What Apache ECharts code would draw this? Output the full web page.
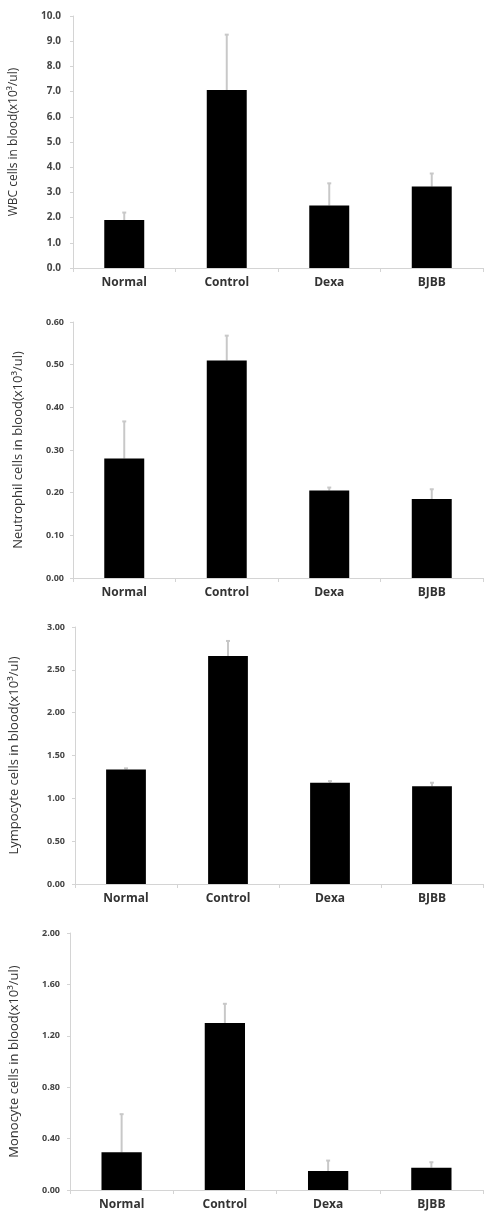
<!DOCTYPE html>
<html>
<head>
<meta charset="utf-8">
<title>Blood cells</title>
<script src="https://cdn.jsdelivr.net/npm/echarts@6/dist/echarts.min.js"></script>
<style>
  html, body { margin: 0; padding: 0; background: #fff; }
  #main { width: 499px; height: 1214px; }
</style>
</head>
<body>
<div id="main"></div>
<script>
  // groups on x axis
  var categories = ['Normal', 'Control', 'Dexa', 'BJBB'];

  // mean values and upper error (SD) of each panel
  var wbcMean = [1.9, 7.06, 2.48, 3.23];
  var wbcErr = [0.3, 2.2, 0.88, 0.52];
  var neutrophilMean = [0.28, 0.51, 0.205, 0.185];
  var neutrophilErr = [0.087, 0.058, 0.007, 0.023];
  var lympocyteMean = [1.337, 2.662, 1.181, 1.142];
  var lympocyteErr = [0.013, 0.175, 0.02, 0.04];
  var monocyteMean = [0.293, 1.30, 0.148, 0.174];
  var monocyteErr = [0.297, 0.149, 0.081, 0.042];

  // axis names
  var axisNames = [
    'WBC cells in blood(x10³/ul)',
    'Neutrophil cells in blood(x10³/ul)',
    'Lympocyte cells in blood(x10³/ul)',
    'Monocyte cells in blood(x10³/ul)'
  ];

  var panels = [
    {mean: wbcMean, err: wbcErr, max: 10, interval: 1, digits: 1,
      grid: {left: 72, top: 16, width: 411, height: 252}, nameSize: 12, nameGap: 53, labelSize: 10, labelMargin: 12},
    {mean: neutrophilMean, err: neutrophilErr, max: 0.6, interval: 0.1, digits: 2,
      grid: {left: 73, top: 322, width: 410, height: 256}, nameSize: 13, nameGap: 48, labelSize: 9, labelMargin: 9},
    {mean: lympocyteMean, err: lympocyteErr, max: 3, interval: 0.5, digits: 2,
      grid: {left: 73, top: 627, width: 410, height: 257}, nameSize: 13, nameGap: 54, labelSize: 9, labelMargin: 10},
    {mean: monocyteMean, err: monocyteErr, max: 2, interval: 0.4, digits: 2,
      grid: {left: 67, top: 933, width: 416, height: 257}, nameSize: 13, nameGap: 49, labelSize: 9, labelMargin: 10}
  ];

  var chart = echarts.init(document.getElementById('main'));

  var grid = [], xAxis = [], yAxis = [], series = [];

  panels.forEach(function (p, i) {
    grid.push(p.grid);
    xAxis.push({
      type: 'category',
      gridIndex: i,
      data: categories,
      axisLine: {lineStyle: {color: '#d4d4d4', width: 1}},
      axisTick: {show: true, length: 4, lineStyle: {color: '#d4d4d4'}},
      axisLabel: {
        color: '#333', fontSize: 12, fontWeight: 'bold',
        fontFamily: 'Open Sans', margin: 9
      }
    });
    yAxis.push({
      type: 'value',
      gridIndex: i,
      min: 0,
      max: p.max,
      interval: p.interval,
      name: axisNames[i],
      nameLocation: 'middle',
      nameGap: p.nameGap,
      nameTextStyle: {color: '#333', fontSize: p.nameSize, fontFamily: 'Open Sans'},
      axisLine: {show: true, lineStyle: {color: '#d4d4d4', width: 1}},
      axisTick: {show: true, length: 3, lineStyle: {color: '#d4d4d4'}},
      splitLine: {show: false},
      axisLabel: {
        color: '#444', fontSize: p.labelSize, fontWeight: 'bold',
        fontFamily: 'Open Sans', margin: p.labelMargin,
        formatter: function (v) { return v.toFixed(p.digits); }
      }
    });

    // bars
    series.push({
      type: 'bar',
      xAxisIndex: i,
      yAxisIndex: i,
      data: p.mean,
      barWidth: '39%',
      itemStyle: {color: '#000'},
      silent: true
    });

    // upper error bars
    series.push({
      type: 'custom',
      xAxisIndex: i,
      yAxisIndex: i,
      silent: true,
      z: 1,
      data: p.mean.map(function (m, k) { return [k, m, m + p.err[k]]; }),
      renderItem: function (params, api) {
        var bottom = api.coord([api.value(0), api.value(1)]);
        var top = api.coord([api.value(0), api.value(2)]);
        var style = {stroke: '#c8c8c8', lineWidth: 2};
        return {
          type: 'group',
          children: [
            {type: 'line', shape: {x1: top[0], y1: top[1], x2: bottom[0], y2: bottom[1]}, style: style},
            {type: 'line', shape: {x1: top[0] - 2, y1: top[1], x2: top[0] + 2, y2: top[1]}, style: style}
          ]
        };
      }
    });
  });

  chart.setOption({
    animation: false,
    grid: grid,
    xAxis: xAxis,
    yAxis: yAxis,
    series: series
  });
</script>
</body>
</html>
